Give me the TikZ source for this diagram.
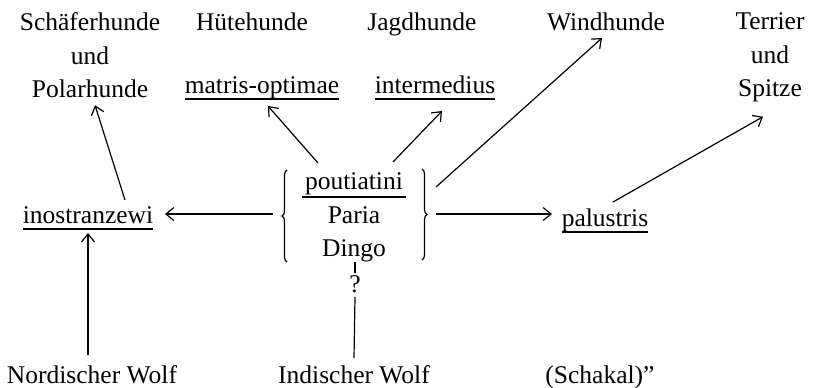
\documentclass[tikz,border=0pt]{standalone}
\usepackage{fontspec}
\setmainfont{Liberation Serif}
\usetikzlibrary{arrows.meta,decorations.pathreplacing}
\begin{document}
\begin{tikzpicture}[x=1pt,y=-1pt,
  lbl/.style={inner sep=0pt, font=\fontsize{25.5}{33.5}\selectfont, align=center},
  ln/.style={line width=1.2pt},
  ul/.style={line width=1.4pt},
  arr/.style={ln, -{Straight Barb[length=8pt,width=13pt]}},
  brc/.style={ln, decorate, decoration={brace, amplitude=5pt}}]
\useasboundingbox (0,0) rectangle (819,388);
\node[lbl, anchor=north] (schaef) at (90,12.6) {Schäferhunde\\und\\Polarhunde};
\node[lbl, anchor=base] (huete) at (252,30) {Hütehunde};
\node[lbl, anchor=base] (matris) at (262,93) {matris-optimae};
\node[lbl, anchor=base] (jagd) at (422,30) {Jagdhunde};
\node[lbl, anchor=base] (inter) at (435,93) {intermedius};
\node[lbl, anchor=base] (wind) at (606,30) {Windhunde};
\node[lbl, anchor=north] (terrier) at (770,12.6) {Terrier\\und\\Spitze};
\node[lbl, anchor=base] (inos) at (88,223) {inostranzewi};
\node[lbl, anchor=north] (group) at (354,172.6) {poutiatini\\Paria\\Dingo};
\node[lbl, anchor=base] (palus) at (605,226) {palustris};
\node[lbl, anchor=base] (q) at (355,292) {?};
\node[lbl, anchor=base] (nord) at (92,383) {Nordischer Wolf};
\node[lbl, anchor=base] (indisch) at (354,383) {Indischer Wolf};
\node[lbl, anchor=base] (schakal) at (600,383) {(Schakal)”};
% underlines
\draw[ul] ([shift={(0,6)}]matris.base west) -- ([shift={(0,6)}]matris.base east);
\draw[ul] ([shift={(0,6)}]inter.base west) -- ([shift={(0,6)}]inter.base east);
\draw[ul] ([shift={(0,6)}]inos.base west) -- ([shift={(0,6)}]inos.base east);
\draw[ul] ([shift={(0,6)}]palus.base west) -- ([shift={(0,6)}]palus.base east);
\draw[ul] ([shift={(-52,24.4)}]group.north) -- ([shift={(52,24.4)}]group.north);
% connectors
\draw[arr] ([shift={(37,-23)}]inos.base) -- ([shift={(5,7)}]schaef.south);
\draw[arr] ([shift={(-4,-28)}]nord.base) -- ([shift={(0,10)}]inos.base);
\draw[arr] ([shift={(-81,41.4)}]group.north) -- ([shift={(77,-9)}]inos.base);
\draw[arr] ([shift={(-36,-9.6)}]group.north) -- ([shift={(6,13)}]matris.base);
\draw[arr] ([shift={(39,-10.6)}]group.north) -- ([shift={(7,18)}]inter.base);
\draw[arr] ([shift={(82,14.4)}]group.north) -- ([shift={(-4,8)}]wind.base);
\draw[arr] ([shift={(82,41.4)}]group.north) -- ([shift={(-53,-12)}]palus.base);
\draw[arr] ([shift={(8,-24)}]palus.base) -- ([shift={(-7,14.4)}]terrier.south);
\draw[ln] ([shift={(1,0)}]group.south) -- ([shift={(0,-2)}]q.north);
\draw[ln] ([shift={(0,5)}]q.base) -- ([shift={(0,-25)}]indisch.base);
\draw[brc] ([shift={(-67,89.4)}]group.north) -- ([shift={(-67,-2.6)}]group.north);
\draw[brc] ([shift={(68,-3.6)}]group.north) -- ([shift={(68,87.4)}]group.north);
\end{tikzpicture}
\end{document}
